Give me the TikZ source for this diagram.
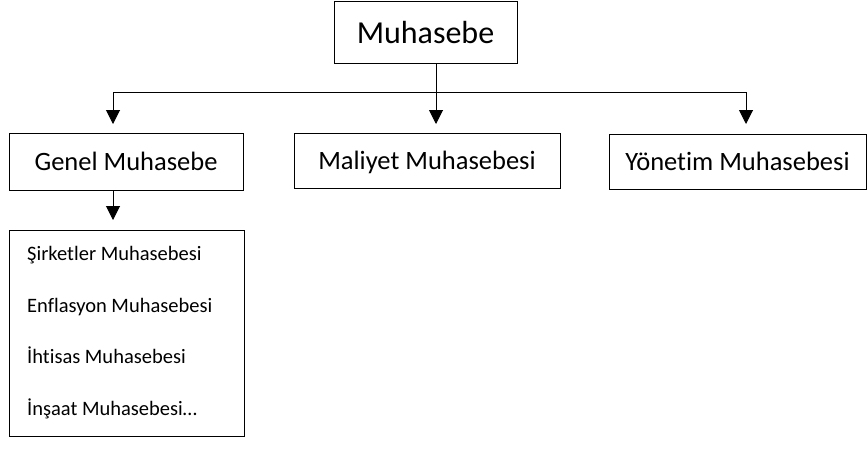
\documentclass[tikz,border=0pt]{standalone}
\usepackage{fontspec}
\setmainfont{Carlito}[Ligatures={NoCommon}]
\usetikzlibrary{arrows.meta}
\begin{document}
\begin{tikzpicture}[x=1pt,y=-1pt,
  box/.style={draw=black,line width=1pt,rectangle,inner sep=0pt},
  arr/.style={line width=1pt,-{Triangle[width=14pt,length=14pt]}},
  conn/.style={line width=1pt},
  bigtxt/.style={font=\fontsize{32}{38}\selectfont,text depth=0pt},
  midtxt/.style={font=\fontsize{26.5}{31}\selectfont,text depth=0pt},
  smalltxt/.style={font=\fontsize{20.5}{24}\selectfont,anchor=base west,inner sep=0pt}]
\useasboundingbox (0,0) rectangle (867,456);
\node[box,bigtxt,minimum width=183pt,minimum height=62pt] (top) at (425.5,32) {Muhasebe};
\node[box,midtxt,minimum width=234pt,minimum height=57pt] (genel) at (126,161.5) {Genel Muhasebe};
\node[box,midtxt,minimum width=266pt,minimum height=55pt] (maliyet) at (427,160.5) {Maliyet Muhasebesi};
\node[box,midtxt,minimum width=257pt,minimum height=55pt] (yonetim) at (737.5,161.5) {Yönetim Muhasebesi};
\node[box,minimum width=235pt,minimum height=206pt] (list) at (126.5,333) {};
\node[smalltxt] (l1) at (27,260) {Şirketler Muhasebesi};
\node[smalltxt] (l2) at (27,312) {Enflasyon Muhasebesi};
\node[smalltxt] (l3) at (27,363) {İhtisas Muhasebesi};
\node[smalltxt] (l4) at (27,415) {İnşaat Muhasebesi…};
\coordinate (hub) at (436,92);
\coordinate (gtip) at (113,124);
\coordinate (mtip) at (436,124);
\coordinate (ytip) at (746,124);
\coordinate (ltip) at (113,220);
\draw[conn] (top.south -| hub) -- (hub);
\draw[arr] (hub) -| (gtip);
\draw[arr] (hub) -- (mtip);
\draw[arr] (hub) -| (ytip);
\draw[arr] (genel.south -| ltip) -- (ltip);
\end{tikzpicture}
\end{document}
